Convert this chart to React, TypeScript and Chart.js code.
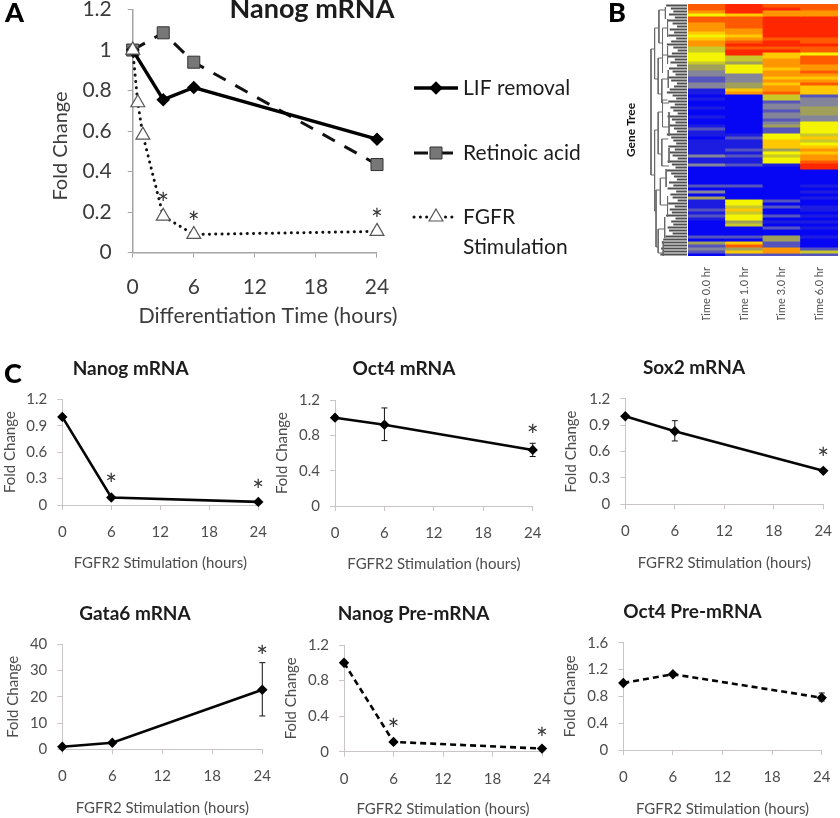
import React, { useEffect, useRef } from "react";
import { Chart, registerables } from "chart.js";
import { drawPoint } from "chart.js/helpers";

Chart.register(...registerables);

const FONT = "Lato, 'Open Sans', sans-serif";

// ---- Panel A data ----
const lifTime = [0, 3, 6, 24];
const lifFold = [1, 0.755, 0.815, 0.56];
const raTime = [0, 3, 6, 24];
const raFold = [1, 1.085, 0.94, 0.435];
const fgfrTime = [0, 0.5, 1, 3, 6, 24];
const fgfrFold = [1, 0.74, 0.58, 0.18, 0.09, 0.105];
const fgfrStars = [[3, 0.255], [6, 0.16], [24, 0.175]];

// ---- Panel C data ----
const stimTime = [0, 6, 24];
const nanogFold = [1, 0.085, 0.035];
const oct4Fold = [1, 0.92, 0.635];
const sox2Fold = [1, 0.83, 0.38];
const gata6Fold = [1, 2.5, 22.7];
const nanogPreFold = [1, 0.11, 0.035];
const oct4PreFold = [1, 1.13, 0.78];
const oct4Err = [[6, 0.74, 1.11], [24, 0.56, 0.71]];
const sox2Err = [[6, 0.72, 0.95]];
const gata6Err = [[24, 12.7, 33]];
const oct4PreErr = [[24, 0.73, 0.85]];
const nanogStars = [[6, 0.265], [24, 0.19]];
const oct4Stars = [[24, 0.83]];
const sox2Stars = [[24, 0.55]];
const gata6Stars = [[24, 36.3]];
const nanogPreStars = [[6, 0.277], [24, 0.176]];

// ---- Panel B data: expression level per gene row ----
const heatTimes = ["Time 0.0 hr", "Time 1.0 hr", "Time 3.0 hr", "Time 6.0 hr"];
const heatT0 = [
  9, 9, 8, 6, 9, 9, 8, 8, 8, 7, 6, 7, 8, 8, 5, 5, 6, 6, 6, 5,
  4, 4, 3, 3, 2, 2, 3, 3, 1, 1, 0, 1, 0, 0, 1, 0, 0, 1, 0, 0,
  1, 2, 1, 1, 0, 1, 1, 1, 1, 1, 3, 1, 1, 3, 0, 0, 0, 0, 0, 0,
  2, 0, 3, 0, 4, 1, 1, 1, 2, 1, 2, 1, 0, 0, 0, 0, 0, 2, 0, 4,
  2, 3, 2, 0,
];
const heatT1 = [
  10, 10, 10, 7, 9, 9, 9, 9, 8, 8, 7, 8, 9, 10, 9, 10, 10, 5, 5, 4,
  6, 6, 6, 3, 3, 3, 4, 4, 7, 8, 0, 0, 0, 0, 0, 0, 0, 0, 0, 0,
  0, 0, 0, 1, 2, 1, 1, 1, 2, 1, 2, 1, 1, 2, 0, 0, 0, 0, 0, 0,
  2, 0, 0, 0, 0, 6, 6, 5, 7, 5, 6, 6, 4, 5, 0, 0, 0, 2, 0, 7,
  9, 4, 7, 2,
];
const heatT3 = [
  9, 10, 8, 8, 10, 10, 10, 10, 10, 10, 10, 9, 10, 10, 9, 10, 7, 7, 8, 8,
  8, 7, 8, 8, 7, 8, 7, 8, 8, 9, 5, 5, 2, 3, 3, 2, 3, 3, 2, 3,
  4, 2, 2, 6, 6, 7, 7, 7, 4, 6, 5, 6, 6, 1, 0, 0, 0, 0, 0, 0,
  0, 0, 0, 0, 0, 2, 0, 2, 0, 0, 2, 0, 1, 0, 2, 0, 0, 4, 4, 2,
  2, 8, 8, 2,
];
const heatT6 = [
  9, 9, 8, 8, 10, 10, 10, 10, 10, 10, 10, 9, 9, 10, 9, 9, 6, 9, 9, 9,
  8, 8, 9, 8, 7, 8, 9, 7, 7, 7, 2, 3, 3, 3, 4, 4, 4, 3, 3, 6,
  6, 6, 6, 5, 7, 5, 6, 7, 8, 7, 8, 8, 9, 10, 10, 0, 0, 0, 0, 0,
  1, 0, 1, 0, 1, 0, 0, 1, 1, 0, 1, 0, 1, 0, 1, 0, 0, 1, 0, 0,
  0, 2, 5, 2,
];
const heatColors = ["#0606f4", "#1c1ce0", "#5454bc", "#84849a", "#a0a05a", "#c8c82a", "#f4f400", "#ffc800", "#ff9600", "#ff5a00", "#ff2600"];

// ---- Gene tree: [depthA, rowA, depthB, rowB] ----
const treeSegments = [
  [0, 15, 0, 57], [0, 15, 10, 15], [10, 8, 10, 25], [10, 8, 22, 8], [22, 2, 22, 13],
  [22, 2, 40, 2], [22, 13, 32, 13], [32, 8, 32, 17], [32, 8, 46, 8], [32, 17, 48, 17],
  [40, 1, 40, 5], [46, 5, 46, 11], [10, 25, 20, 25], [20, 18, 20, 30], [20, 18, 32, 18],
  [20, 30, 30, 30], [32, 17, 32, 23], [30, 25, 30, 33], [30, 25, 48, 25], [30, 33, 50, 33],
  [0, 57, 10, 57], [10, 42, 10, 69], [10, 42, 20, 42], [20, 36, 20, 50], [20, 36, 32, 36],
  [32, 32, 32, 41], [32, 32, 46, 32], [32, 41, 50, 41], [20, 50, 30, 50], [30, 45, 30, 54],
  [30, 45, 48, 45], [30, 54, 50, 54], [10, 69, 14, 69], [14, 62, 14, 81], [14, 62, 26, 62],
  [26, 58, 26, 67], [26, 58, 42, 58], [26, 67, 46, 67], [14, 81, 20, 81], [20, 75, 20, 83],
  [20, 75, 38, 75], [20, 83, 34, 83], [38, 71, 38, 78], [34, 79, 34, 84], [46, 64, 46, 71],
  [42, 55, 42, 61], [48, 22, 48, 28], [50, 36, 50, 44], [50, 48, 50, 53], [46, 14, 46, 20],
];
const leafStart = [
  42, 55, 62, 50, 66, 45, 60, 72, 52, 64, 48, 70, 56, 44, 62, 74, 58, 46, 66, 54,
  72, 50, 60, 68, 46, 56, 72, 64, 52, 44, 60, 70, 48, 66, 54, 62, 74, 46, 58, 68,
  50, 64, 72, 44, 56, 62, 70, 48, 66, 52, 60, 74, 46, 58, 68, 44, 56, 64, 72, 50,
  62, 46, 70, 54, 60, 74, 48, 66, 52, 58, 42, 68, 56, 62, 46, 50, 60, 40, 34, 30,
  36, 28, 32, 26,
];

// ---- Styles and layout ----
type Series = {
  label: string; x: number[]; y: number[]; color: string; width: number; dash?: number[];
  cap?: string; point: string; radius: number; fill: string; border: string; borderW: number; order: number;
};
const solidStyle = { color: "#050505", width: 2.6, point: "rectRot", radius: 5.2, fill: "#000", border: "#000", borderW: 0, order: 1 };
const dashedStyle = { ...solidStyle, dash: [6, 4] };

const panelASeries: Series[] = [
  { label: "LIF removal", x: lifTime, y: lifFold, color: "#000", width: 3.4, point: "rectRot", radius: 6.8, fill: "#000", border: "#000", borderW: 0, order: 2 },
  { label: "Retinoic acid", x: raTime, y: raFold, color: "#111", width: 3, dash: [14, 11], point: "rect", radius: 8.5, fill: "#777", border: "#333", borderW: 1, order: 3 },
  { label: "FGFR\nStimulation", x: fgfrTime, y: fgfrFold, color: "#111", width: 3, dash: [0.1, 6.2], cap: "round", point: "triangle", radius: 8, fill: "#fff", border: "#555", borderW: 1.2, order: 1 },
];

type Panel = {
  title: string; series: Series[]; err?: number[][]; stars?: number[][];
  yMax: number; yStep: number;
  plot: [number, number, number, number]; titleAt: [number, number]; titleSize: number;
  xTitleBottom: number; yTitleLeft: number; tickSize: number; axisTitleSize: number; axisColor: string;
  xPad: number; yPad: number; panelA?: boolean; tickColor: string;
};

const cPanel = { titleSize: 19, tickSize: 15, axisTitleSize: 15, axisColor: "#c9c5c5", xPad: 13, yPad: 10, tickColor: "#4d4d4d" };

const panels: Panel[] = [
  { title: "Nanog mRNA", series: panelASeries, stars: fgfrStars, yMax: 1.2, yStep: 0.2,
    plot: [132.7, 377, 8.3, 252.7], titleAt: [312, 9], titleSize: 27, xTitleBottom: 330, yTitleLeft: 48,
    tickSize: 21, axisTitleSize: 20, axisColor: "#a3a3a3", xPad: 17, yPad: 16, panelA: true, tickColor: "#3c3c3c" },
  { ...cPanel, title: "Nanog mRNA", series: [{ ...solidStyle, label: "Nanog mRNA", x: stimTime, y: nanogFold }], stars: nanogStars, yMax: 1.2, yStep: 0.3,
    plot: [62.3, 258.3, 399.3, 505], titleAt: [130.7, 369], xTitleBottom: 572, yTitleLeft: 1 },
  { ...cPanel, title: "Oct4 mRNA", series: [{ ...solidStyle, label: "Oct4 mRNA", x: stimTime, y: oct4Fold }], err: oct4Err, stars: oct4Stars, yMax: 1.2, yStep: 0.4,
    plot: [335, 532.7, 400, 506], titleAt: [404, 369], xTitleBottom: 573, yTitleLeft: 273 },
  { ...cPanel, title: "Sox2 mRNA", series: [{ ...solidStyle, label: "Sox2 mRNA", x: stimTime, y: sox2Fold }], err: sox2Err, stars: sox2Stars, yMax: 1.2, yStep: 0.3,
    plot: [625.3, 823.3, 398.7, 504.3], titleAt: [694, 368], xTitleBottom: 572, yTitleLeft: 562 },
  { ...cPanel, title: "Gata6 mRNA", series: [{ ...solidStyle, label: "Gata6 mRNA", x: stimTime, y: gata6Fold }], err: gata6Err, stars: gata6Stars, yMax: 40, yStep: 10,
    plot: [62.3, 262.3, 644.3, 749.3], titleAt: [135, 614], xTitleBottom: 817, yTitleLeft: 4 },
  { ...cPanel, title: "Nanog Pre-mRNA", series: [{ ...dashedStyle, label: "Nanog Pre-mRNA", x: stimTime, y: nanogPreFold }], stars: nanogPreStars, yMax: 1.2, yStep: 0.4,
    plot: [344, 542, 645, 751.7], titleAt: [413.5, 614], xTitleBottom: 818, yTitleLeft: 282 },
  { ...cPanel, title: "Oct4 Pre-mRNA", series: [{ ...dashedStyle, label: "Oct4 Pre-mRNA", x: stimTime, y: oct4PreFold }], err: oct4PreErr, yMax: 1.6, yStep: 0.4,
    plot: [623.3, 821.7, 642.7, 750], titleAt: [692.5, 611.7], xTitleBottom: 818, yTitleLeft: 561 },
];

const W = 840;
const H = 818;

function fixBox(size: number) {
  return (scale: any) => {
    if (scale.isHorizontal()) { scale.height = size; scale.paddingLeft = 0; scale.paddingRight = 0; }
    else { scale.width = size; scale.paddingTop = 0; scale.paddingBottom = 0; }
  };
}

function lineConfig(p: Panel): any {
  const [left, right, top, bottom] = p.plot;
  const decor = {
    id: "decor",
    afterDatasetsDraw(chart: any) {
      const { ctx, scales } = chart;
      ctx.save();
      // error bars
      ctx.strokeStyle = "#111";
      ctx.lineWidth = 1;
      for (const [x, lo, hi] of p.err || []) {
        const px = scales.x.getPixelForValue(x);
        const a = scales.y.getPixelForValue(lo);
        const b = scales.y.getPixelForValue(hi);
        ctx.beginPath();
        ctx.moveTo(px, a); ctx.lineTo(px, b);
        ctx.moveTo(px - 3, a); ctx.lineTo(px + 3, a);
        ctx.moveTo(px - 3, b); ctx.lineTo(px + 3, b);
        ctx.stroke();
      }
      // significance stars
      ctx.fillStyle = "#333";
      ctx.textAlign = "center";
      ctx.textBaseline = "middle";
      ctx.font = `28px ${FONT}`;
      for (const [x, y] of p.stars || []) {
        ctx.fillText("*", scales.x.getPixelForValue(x), scales.y.getPixelForValue(y) + 4);
      }
      // title
      ctx.fillStyle = "#1c1c1c";
      ctx.font = `bold ${p.titleSize}px ${FONT}`;
      ctx.fillText(p.title, p.titleAt[0], p.titleAt[1]);
      if (p.panelA) {
        ctx.fillStyle = "#3c3c3c";
        ctx.font = `${p.axisTitleSize + 1.4}px ${FONT}`;
        ctx.fillText("Differentiation Time (hours)", 268, 316);
        ctx.save();
        ctx.font = `${p.axisTitleSize}px ${FONT}`;
        ctx.translate(61, 146);
        ctx.rotate(-Math.PI / 2);
        ctx.fillText("Fold Change", 0, 0);
        ctx.restore();
        // legend
        const rows = [88, 153, 217];
        p.series.forEach((s, i) => {
          const y = rows[i];
          ctx.save();
          ctx.strokeStyle = s.color;
          ctx.lineWidth = s.width;
          ctx.setLineDash(s.dash || []);
          ctx.lineCap = (s.cap as any) || "butt";
          ctx.beginPath();
          ctx.moveTo(414, y); ctx.lineTo(458, y);
          ctx.stroke();
          ctx.restore();
          ctx.fillStyle = s.fill;
          ctx.strokeStyle = s.border;
          ctx.lineWidth = s.borderW;
          drawPoint(ctx, { pointStyle: s.point, radius: s.radius, rotation: 0, borderWidth: s.borderW } as any, 436, y);
          ctx.fillStyle = "#1c1c1c";
          ctx.textAlign = "left";
          ctx.font = `21px ${FONT}`;
          s.label.split("\n").forEach((line, k) => ctx.fillText(line, 463, y + k * 30));
        });
      }
      ctx.restore();
    },
  };
  return {
    type: "line",
    plugins: [decor],
    data: {
      datasets: p.series.map((s) => ({
        label: s.label.replace("\n", " "),
        data: s.x.map((x, i) => ({ x, y: s.y[i] })),
        borderColor: s.color, borderWidth: s.width, borderDash: s.dash || [], borderCapStyle: s.cap || "butt",
        pointStyle: s.point, pointRadius: s.radius, pointBackgroundColor: s.fill, pointBorderColor: s.border,
        pointBorderWidth: s.borderW, tension: 0, clip: false, order: s.order,
      })),
    },
    options: {
      responsive: false, animation: false, maintainAspectRatio: false,
      layout: { padding: { left: p.yTitleLeft, right: W - right, top, bottom: H - p.xTitleBottom } },
      plugins: { legend: { display: false }, tooltip: { enabled: false }, title: { display: false } },
      scales: {
        x: {
          type: "linear", min: 0, max: 24,
          ticks: { stepSize: 6, color: p.tickColor, padding: p.xPad, maxRotation: 0, font: { family: FONT, size: p.tickSize } },
          grid: { drawOnChartArea: false, drawTicks: true, tickLength: 5, color: p.axisColor },
          border: { color: p.axisColor, width: p.panelA ? 1.5 : 1 },
          title: { display: !p.panelA, text: "FGFR2 Stimulation (hours)", color: "#4d4d4d", font: { family: FONT, size: p.axisTitleSize }, padding: 0 },
          afterFit: fixBox(p.xTitleBottom - bottom),
        },
        y: {
          min: 0, max: p.yMax,
          ticks: { stepSize: p.yStep, color: p.tickColor, padding: p.yPad, font: { family: FONT, size: p.tickSize }, callback: (v: number) => String(+v.toFixed(1)) },
          grid: { drawOnChartArea: false, drawTicks: true, tickLength: 5, color: p.axisColor },
          border: { color: p.axisColor, width: p.panelA ? 1.5 : 1 },
          title: { display: !p.panelA, text: "Fold Change", color: "#4d4d4d", font: { family: FONT, size: p.axisTitleSize }, padding: 0 },
          afterFit: fixBox(left - p.yTitleLeft),
        },
      },
    },
  };
}

function heatConfig(): any {
  const columns = [heatT0, heatT1, heatT3, heatT6];
  const rows = heatT0.map((_, r) => ({
    label: `row ${r}`,
    data: heatTimes.map((t) => ({ x: t, y: [r, r + 1] })),
    backgroundColor: columns.map((col) => heatColors[col[r]]),
    borderWidth: 0,
    grouped: false,
    barPercentage: 1,
    categoryPercentage: 1,
    inflateAmount: 0.4,
  }));
  const left = 688, right = 838, top = 4, bottom = 256, yTitleLeft = 624;
  return {
    type: "bar",
    data: { labels: heatTimes, datasets: rows },
    options: {
      responsive: false, animation: false, maintainAspectRatio: false,
      layout: { padding: { left: yTitleLeft, right: W - right, top, bottom: H - 320 } },
      plugins: { legend: { display: false }, tooltip: { enabled: false } },
      scales: {
        x: {
          ticks: { minRotation: 90, maxRotation: 90, padding: 11, color: "#555", font: { family: FONT, size: 11 } },
          grid: { display: false, drawTicks: false }, border: { display: false },
          afterFit: fixBox(320 - bottom),
        },
        y: {
          min: 0, max: heatT0.length, reverse: true,
          ticks: { display: false }, grid: { display: false }, border: { display: false },
          title: { display: true, text: "Gene Tree", color: "#111", font: { family: FONT, size: 12, weight: "bold" }, padding: 0 },
          afterFit: fixBox(left - yTitleLeft),
        },
      },
    },
  };
}

function treeConfig(): any {
  const branchPoints: any[] = [];
  for (const [a, b, c, d] of treeSegments) {
    branchPoints.push({ x: a, y: b }, { x: c, y: d }, { x: null, y: null });
  }
  const leafPoints: any[] = [];
  leafStart.forEach((d, r) => {
    leafPoints.push({ x: d, y: r + 0.5 }, { x: 100, y: r + 0.5 }, { x: null, y: null });
  });
  return {
    type: "scatter",
    data: {
      datasets: [
        { label: "branches", data: branchPoints, showLine: true, borderColor: "#6a6a6a", borderWidth: 1, pointRadius: 0, spanGaps: false, clip: false },
        { label: "leaves", data: leafPoints, showLine: true, borderColor: "#505050", borderWidth: 2.2, pointRadius: 0, spanGaps: false, clip: false },
      ],
    },
    options: {
      responsive: false, animation: false, maintainAspectRatio: false,
      layout: { padding: { left: 651, right: W - 687, top: 4, bottom: H - 256 } },
      plugins: { legend: { display: false }, tooltip: { enabled: false } },
      scales: {
        x: { type: "linear", min: 0, max: 100, display: false },
        y: { type: "linear", min: 0, max: 84, reverse: true, display: false },
      },
    },
  };
}

function Layer({ make, blur }: { make: () => any; blur: number }) {
  const ref = useRef<HTMLCanvasElement>(null);
  useEffect(() => {
    const chart = new Chart(ref.current as HTMLCanvasElement, make());
    return () => chart.destroy();
  }, []);
  return (
    <canvas
      ref={ref}
      width={W}
      height={H}
      style={{ position: "absolute", left: 0, top: 0, width: W, height: H, filter: `blur(${blur}px)` }}
    />
  );
}

const letters: [string, number, number][] = [["A", 5, -3], ["B", 608, -3], ["C", 4, 358]];

export default function App() {
  return (
    <div style={{ position: "absolute", left: 0, top: 0, width: W, height: H, background: "#fff", overflow: "hidden" }}>
      <Layer make={heatConfig} blur={0.6} />
      <Layer make={treeConfig} blur={0.5} />
      {panels.map((p, i) => (
        <Layer key={i} make={() => lineConfig(p)} blur={0.5} />
      ))}
      {letters.map(([t, x, y]) => (
        <div key={t} style={{ position: "absolute", left: x, top: y, font: `900 27px ${FONT}`, color: "#000", lineHeight: "30px" }}>{t}</div>
      ))}
    </div>
  );
}
